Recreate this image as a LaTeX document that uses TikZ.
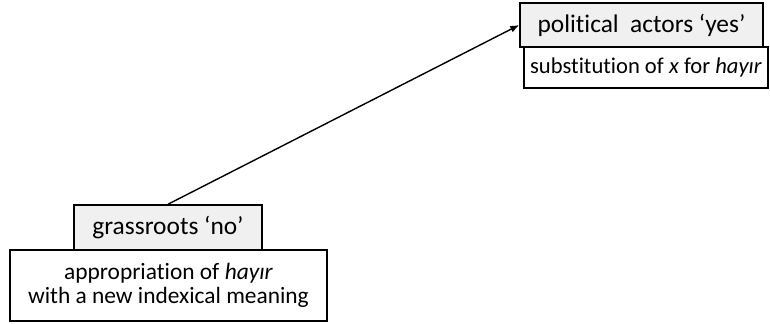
\documentclass[tikz,border=0pt]{standalone}
\usepackage{fontspec}
\setmainfont{Carlito}[Ligatures=NoCommon]
\usepackage{xcolor}
\usetikzlibrary{arrows.meta,positioning}
\tikzset{
  box/.style={draw,line width=0.75pt,align=center,inner sep=2pt,font=\fontsize{11.7}{12}\selectfont},
  head/.style={box,fill=black!6,font=\fontsize{12.7}{14}\selectfont},
  arr/.style={-{Latex[length=4.5pt,width=3.5pt]},line width=0.7pt},
}

\begin{document}
\begin{tikzpicture}[x=0.5pt,y=-0.5pt]
\useasboundingbox (0,0) rectangle (770,324);
\node[head,minimum width=121.5pt,minimum height=22pt] (yes) at (641.5,25) {political\ \ actors ‘yes’};
\node[box,minimum width=122pt,minimum height=20.5pt,font=\fontsize{11.3}{12}\selectfont] (subst) at (646,67.5) {substitution of \textit{x} for \textit{hayır}};
\node[head,minimum width=94pt,minimum height=22.5pt] (no) at (168,227.5) {grassroots ‘no’};
\node[box,minimum width=158.5pt,minimum height=35.5pt] (approp) at (168.5,285.5) {appropriation of \textit{hayır}\\with a new indexical meaning};
\draw[arr] (no.north)--(yes.west);
\end{tikzpicture}
\end{document}
